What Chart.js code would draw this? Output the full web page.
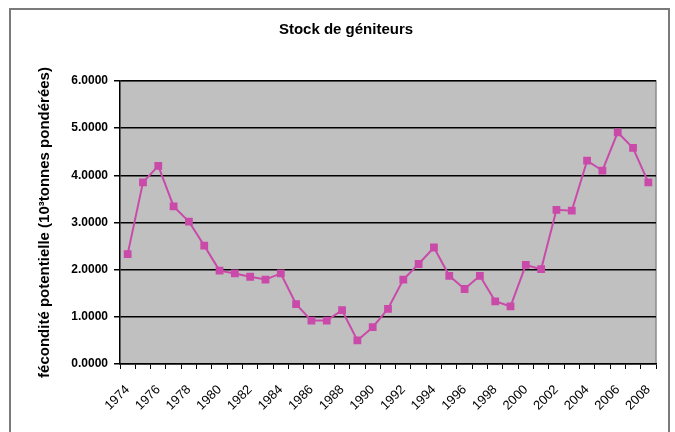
<!DOCTYPE html>
<html>
<head>
<meta charset="utf-8">
<script src="https://cdn.jsdelivr.net/npm/chart.js@4/dist/chart.umd.min.js"></script>
<style>
  body { margin: 0; background: #fff; }
  #wrap { position: relative; width: 675px; height: 432px; overflow: hidden; }
  #frame { position: absolute; left: 9px; top: 8px; width: 657px; height: 460px; border: 2px solid #7a7a7a; }
  canvas { position: absolute; left: 0; top: 0; }
</style>
</head>
<body>
<div id="wrap">
  <div id="frame"></div>
  <canvas id="chart" width="675" height="432"></canvas>
</div>
<script>
// years 1974 - 2008
const years = [];
for (let y = 1974; y <= 2008; y++) years.push(String(y));

const stock = [2.33, 3.85, 4.20, 3.34, 3.02, 2.51, 1.98, 1.92, 1.85, 1.79,
               1.92, 1.27, 0.92, 0.92, 1.14, 0.50, 0.78, 1.17, 1.79, 2.12,
               2.47, 1.87, 1.59, 1.87, 1.33, 1.22, 2.10, 2.01, 3.27, 3.25,
               4.31, 4.10, 4.91, 4.58, 3.85];

const yTicks = [0, 1, 2, 3, 4, 5, 6];

const plotBg = {
  id: 'plotBg',
  beforeDraw(chart) {
    const { ctx, chartArea: a } = chart;
    ctx.save();
    ctx.fillStyle = '#c0c0c0';
    ctx.fillRect(a.left, a.top, a.right - a.left, a.bottom - a.top);
    ctx.strokeStyle = '#8c8c8c';
    ctx.lineWidth = 1.5;
    ctx.beginPath();
    ctx.moveTo(a.left, a.top);
    ctx.lineTo(a.right, a.top);
    ctx.lineTo(a.right, a.bottom);
    ctx.stroke();
    ctx.restore();
  }
};

new Chart(document.getElementById('chart'), {
  type: 'line',
  data: {
    labels: years,
    datasets: [{
      data: stock,
      borderColor: '#c94aa9',
      backgroundColor: '#c94aa9',
      borderWidth: 2,
      pointStyle: 'rect',
      pointRadius: 5.5,
      pointBorderWidth: 0,
      tension: 0
    }]
  },
  options: {
    responsive: false,
    animation: false,
    layout: { padding: { left: 36, right: 19, top: 0, bottom: 10 } },
    plugins: {
      legend: { display: false },
      tooltip: { enabled: false },
      title: {
        display: true,
        text: 'Stock de géniteurs',
        color: '#000',
        font: { family: 'Liberation Sans', size: 15, weight: 'bold' },
        padding: { top: 21, bottom: 42 }
      }
    },
    scales: {
      x: {
        offset: true,
        afterFit: s => { s.height = 58; },
        grid: { display: true, drawOnChartArea: false, drawTicks: true, tickLength: 5, color: '#000', offset: true },
        border: { color: '#000', width: 1.5 },
        ticks: {
          autoSkip: false,
          minRotation: 45,
          maxRotation: 45,
          color: '#000',
          padding: 13,
          font: { family: 'Liberation Sans', size: 13 },
          callback: function (v, i) { return i % 2 === 0 ? years[i] : ''; }
        }
      },
      y: {
        min: 0,
        max: 6,
        afterFit: s => { s.width = 84; },
        afterBuildTicks: s => { s.ticks = yTicks.map(v => ({ value: v })); },
        grid: { color: '#000', lineWidth: 1.5, tickLength: 6 },
        border: { color: '#000', width: 1.5 },
        title: {
          display: true,
          text: 'fécondité potentielle (10³tonnes pondérées)',
          color: '#000',
          font: { family: 'Liberation Sans', size: 15, weight: 'bold' },
          padding: 0
        },
        ticks: {
          color: '#000',
          padding: 6,
          font: { family: 'Liberation Sans', size: 12, weight: 'bold' },
          callback: v => v.toFixed(4)
        }
      }
    }
  },
  plugins: [plotBg]
});
</script>
</body>
</html>
